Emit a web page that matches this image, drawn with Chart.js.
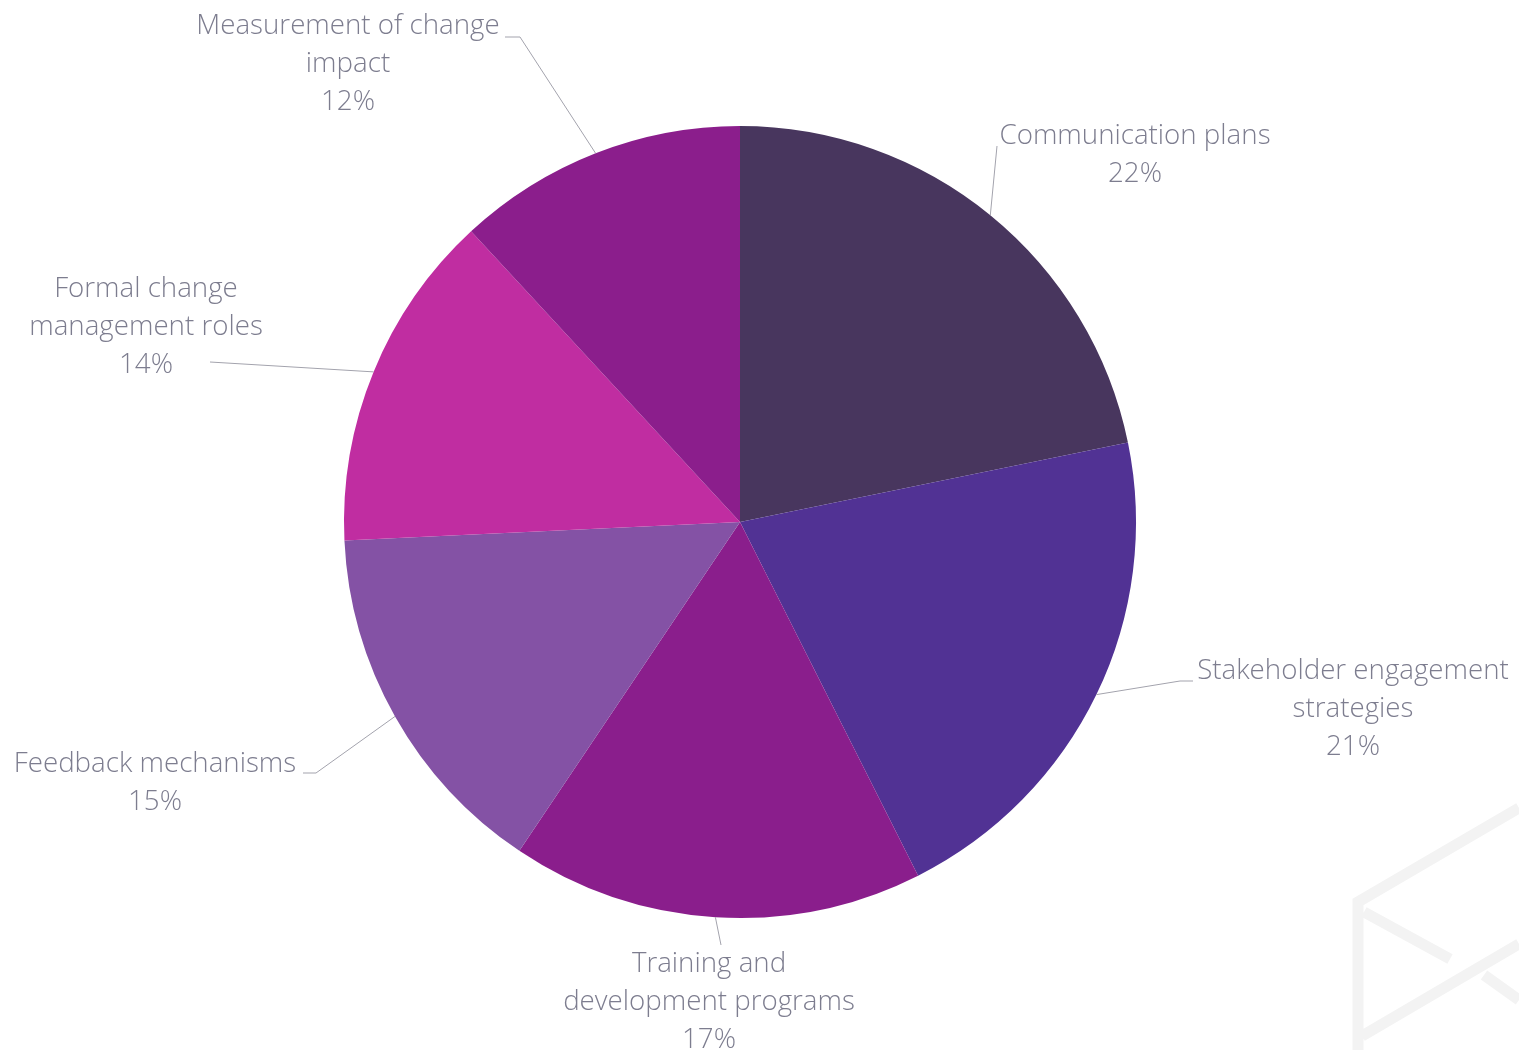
<!DOCTYPE html>
<html>
<head>
<meta charset="utf-8">
<title>Change management practices</title>
<script src="https://cdn.jsdelivr.net/npm/chart.js@4/dist/chart.umd.min.js"></script>
<style>
    html, body { margin: 0; padding: 0; background: #ffffff; }
    #practiceChart { display: block; }
</style>
</head>
<body>
<canvas id="practiceChart" width="1519" height="1050"></canvas>
<script>
// Practice categories (each entry holds the wrapped label lines)
const categories = [
    ['Communication plans'],
    ['Stakeholder engagement', 'strategies'],
    ['Training and', 'development programs'],
    ['Feedback mechanisms'],
    ['Formal change', 'management roles'],
    ['Measurement of change', 'impact']
];

// Share of respondents, in percent
const shares = [22, 21, 17, 15, 14, 12];

const sliceColors = ['#48365e', '#513294', '#8a1e8c', '#8452a5', '#c02da1', '#8b1e8c'];

// Where each callout bends and where its text block sits
const calloutLayout = [
    { elbow: [997, 146], end: null,         textX: 1135, textY: 136 },
    { elbow: [1180, 681], end: [1193, 681], textX: 1353, textY: 671 },
    { elbow: [721, 945], end: null,         textX: 709,  textY: 964 },
    { elbow: [316, 773], end: [303, 773],   textX: 155,  textY: 764 },
    { elbow: [210, 362], end: null,         textX: 146,  textY: 289 },
    { elbow: [520, 37],  end: [505, 37],    textX: 348,  textY: 26 }
];

const LABEL_FONT = '300 27.7px "Open Sans", "Lato", sans-serif';
const LABEL_COLOR = '#7d7d8f';
const LINE_HEIGHT = 38;

// Faint logo mark in the lower right corner
const watermarkPlugin = {
    id: 'watermark',
    beforeDraw(chart) {
        const ctx = chart.ctx;
        ctx.save();
        ctx.strokeStyle = '#f3f3f3';
        ctx.lineWidth = 11;
        ctx.lineCap = 'butt';
        ctx.lineJoin = 'miter';
        ctx.beginPath();
        ctx.moveTo(1519, 808);
        ctx.lineTo(1358, 902);
        ctx.lineTo(1358, 1050);
        ctx.moveTo(1364, 912);
        ctx.lineTo(1450, 959);
        ctx.moveTo(1362, 1036);
        ctx.lineTo(1519, 944);
        ctx.moveTo(1484, 975);
        ctx.lineTo(1519, 1000);
        ctx.stroke();
        ctx.restore();
    }
};

// Leader lines and text for every slice
const calloutPlugin = {
    id: 'callouts',
    afterDraw(chart) {
        const ctx = chart.ctx;
        const meta = chart.getDatasetMeta(0);
        ctx.save();
        meta.data.forEach(function(arc, i) {
            const layout = calloutLayout[i];
            const mid = (arc.startAngle + arc.endAngle) / 2;
            const sx = arc.x + Math.cos(mid) * arc.outerRadius;
            const sy = arc.y + Math.sin(mid) * arc.outerRadius;

            ctx.strokeStyle = '#a3a3ad';
            ctx.lineWidth = 1;
            ctx.beginPath();
            ctx.moveTo(sx, sy);
            ctx.lineTo(layout.elbow[0], layout.elbow[1]);
            if (layout.end) {
                ctx.lineTo(layout.end[0], layout.end[1]);
            }
            ctx.stroke();

            const lines = chart.data.labels[i].concat([chart.data.datasets[0].data[i] + '%']);
            ctx.font = LABEL_FONT;
            ctx.fillStyle = LABEL_COLOR;
            ctx.textAlign = 'center';
            ctx.textBaseline = 'middle';
            lines.forEach(function(text, k) {
                ctx.fillText(text, layout.textX, layout.textY + k * LINE_HEIGHT);
            });
        });
        ctx.restore();
    }
};

const ctx = document.getElementById('practiceChart').getContext('2d');
const practiceChart = new Chart(ctx, {
    type: 'pie',
    data: {
        labels: categories,
        datasets: [{
            data: shares,
            backgroundColor: sliceColors,
            borderWidth: 0
        }]
    },
    options: {
        responsive: false,
        animation: false,
        layout: {
            padding: { left: 344, right: 383, top: 126, bottom: 132 }
        },
        plugins: {
            legend: { display: false },
            tooltip: { enabled: false }
        }
    },
    plugins: [watermarkPlugin, calloutPlugin]
});
</script>
</body>
</html>
